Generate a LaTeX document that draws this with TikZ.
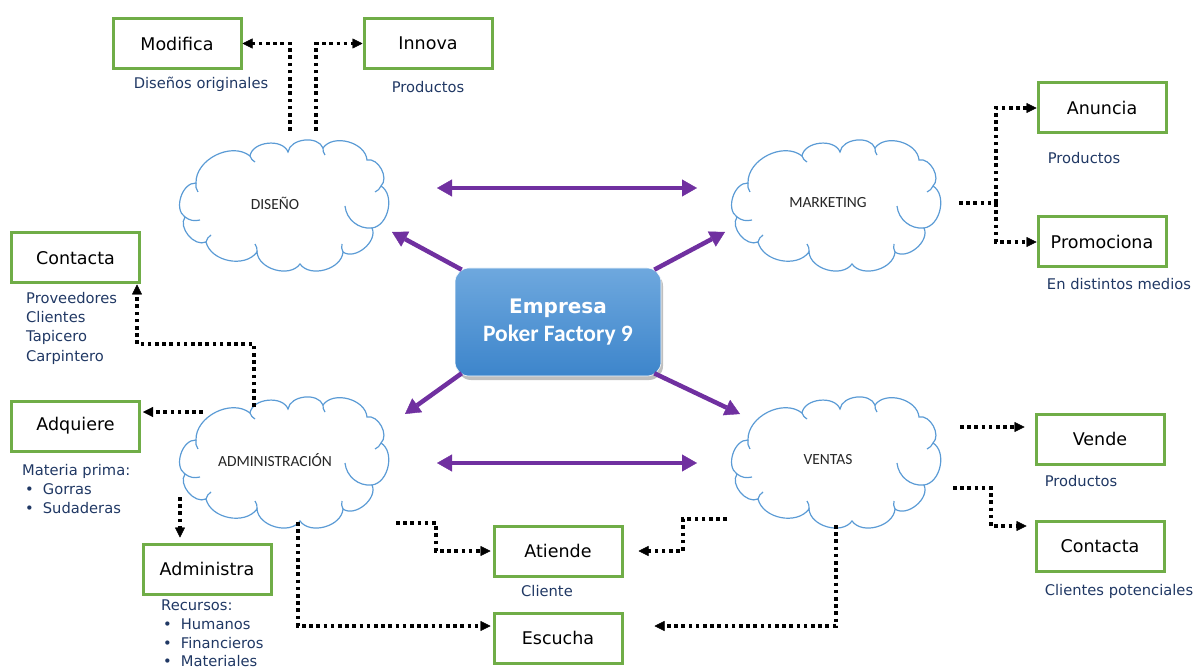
\documentclass[tikz,border=0pt]{standalone}
\usepackage{fontspec}
\setmainfont{DejaVu Sans}
\newfontfamily\calib{Carlito}
\usetikzlibrary{arrows.meta,calc}
\definecolor{boxgreen}{HTML}{70AD47}
\definecolor{cloudblue}{HTML}{5B9BD5}
\definecolor{capblue}{HTML}{203864}
\definecolor{purp}{HTML}{7030A0}
\definecolor{rtop}{HTML}{6EA8DE}
\definecolor{rbot}{HTML}{3D85CB}
\begin{document}
\begin{tikzpicture}[x=1pt,y=-1pt,
  gbox/.style={draw=boxgreen, line width=3pt, minimum width=128pt, minimum height=50pt, inner sep=0pt, font=\fontsize{17.5}{19}\selectfont},
  captxt/.style={text=capblue, font=\fontsize{14.7}{19.3}\selectfont, inner sep=0pt, align=left},
  cloudtxt/.style={inner sep=0pt, font=\calib\fontsize{15.5}{17}\selectfont, text=black!85},
  cloudline/.style={draw=cloudblue, line width=1.2pt},
  dots/.style={line width=3.6pt, dash pattern=on 3.6pt off 3.6pt},
  dotarrow/.style={dots, -{Triangle[length=10pt,width=10pt,line width=0.4pt]}},
  parrow/.style={draw=purp, line width=4.5pt, -{Triangle[length=15pt,width=17pt,line width=0.4pt]}},
  pdarrow/.style={draw=purp, line width=4.5pt, {Triangle[length=15pt,width=17pt,line width=0.4pt]}-{Triangle[length=15pt,width=17pt,line width=0.4pt]}},
  pics/pcloud/.style={code={
    \draw[cloudline] (-99,13) to[bend left=75] (-88,-21) to[bend left=65] (-34,-48)
      to[bend left=75] (4,-52) to[bend left=75] (39,-56) to[bend left=70] (83,-44)
      to[bend left=75] (97,-18) to[bend left=70] (88,24) to[bend left=75] (59,48)
      to[bend left=70] (16,60) to[bend left=70] (-27,48) to[bend left=65] (-78,38)
      to[bend left=75] cycle;
    \draw[cloudline] (-99,13) to[bend right=25] (-84,16);
    \draw[cloudline] (-88,-21) to[bend right=20] (-86,-12);
    \draw[cloudline] (-34,-48) to[bend right=20] (-29,-42);
    \draw[cloudline] (39,-56) to[bend right=20] (41,-49);
    \draw[cloudline] (97,-18) to[bend left=20] (91,-12);
    \draw[cloudline] (61,2) to[bend right=45] (88,24);
    \draw[cloudline] (59,48) to[bend left=20] (58,40);
    \draw[cloudline] (-27,48) to[bend right=20] (-29,40);
    \draw[cloudline] (-78,38) to[bend left=20] (-73,31);
  }}
]
\useasboundingbox (0,0) rectangle (1195,671);

% clouds
\pic at (284,204) {pcloud};
\pic at (836,204) {pcloud};
\pic at (284,461) {pcloud};
\pic at (836,461) {pcloud};
\node[cloudtxt] (dis) at (275,203) {DISEÑO};
\node[cloudtxt] (mkt) at (828,203) {MARKETING};
\node[cloudtxt] (adm) at (275,460) {ADMINISTRACIÓN};
\node[cloudtxt] (ven) at (828,460) {VENTAS};

% central node
\fill[black!25, rounded corners=14pt] (457,272) rectangle (663,380);
\node[draw=white, line width=0.6pt, rounded corners=14pt, top color=rtop, bottom color=rbot, minimum width=206pt, minimum height=108pt, text=white, align=center, inner sep=0pt] (emp) at (558,322)
  {{\bfseries\fontsize{20}{24}\selectfont Empresa}\\[7pt]{\calib\bfseries\fontsize{23.5}{24}\selectfont Poker Factory 9}};

% boxes
\node[gbox] (mod) at (177,43.5) {Modifica};
\node[gbox] (inn) at (428,43.5) {Innova};
\node[gbox] (anu) at (1102,108) {Anuncia};
\node[gbox] (pro) at (1102,242) {Promociona};
\node[gbox] (conl) at (75.5,258) {Contacta};
\node[gbox] (adq) at (75.5,426) {Adquiere};
\node[gbox] (admn) at (207,569) {Administra};
\node[gbox] (ati) at (558,551) {Atiende};
\node[gbox] (esc) at (558,638) {Escucha};
\node[gbox] (ven1) at (1100,439) {Vende};
\node[gbox] (conr) at (1100,546) {Contacta};

% captions
\node[captxt] (c1) at (201,84) {Diseños originales};
\node[captxt] (c2) at (428,87) {Productos};
\node[captxt] (c3) at (1084,158) {Productos};
\node[captxt] (c4) at (1119,284) {En distintos medios};
\node[captxt, anchor=north west] (c5) at (26,292) {Proveedores\\Clientes\\Tapicero\\Carpintero};
\node[captxt, anchor=north west] (c6) at (22,464) {Materia prima:\\\hspace*{3pt}\textbullet\hspace{9pt}Gorras\\\hspace*{3pt}\textbullet\hspace{9pt}Sudaderas};
\node[captxt, anchor=north west, font=\fontsize{14.7}{18.6}\selectfont] (c7) at (161,600) {Recursos:\\\hspace*{2pt}\textbullet\hspace{9pt}Humanos\\\hspace*{2pt}\textbullet\hspace{9pt}Financieros\\\hspace*{2pt}\textbullet\hspace{9pt}Materiales};
\node[captxt] (c8) at (547,591) {Cliente};
\node[captxt] (c9) at (1081,481) {Productos};
\node[captxt] (c10) at (1119,591) {Clientes potenciales};

% purple arrows
\coordinate (p1) at (437,188); \coordinate (p2) at (697,188);
\draw[pdarrow] (p1) -- (p2);
\coordinate (p3) at (437,463); \coordinate (p4) at (697,463);
\draw[pdarrow] (p3) -- (p4);
\coordinate (q1) at (392,232); \coordinate (q2) at (725,232);
\coordinate (q3) at (405,414); \coordinate (q4) at (740,414);
\draw[parrow] ($(emp.north west)+(7,2)$) -- (q1);
\draw[parrow] ($(emp.north east)+(-7,2)$) -- (q2);
\draw[parrow] ($(emp.south west)+(7,-3)$) -- (q3);
\draw[parrow] ($(emp.south east)+(-7,-3)$) -- (q4);

% dotted connectors
\coordinate (d1) at (290,131); \coordinate (d2) at (316,131);
\draw[dotarrow] (d1) |- (mod.east);
\draw[dotarrow] (d2) |- (inn.west);

\coordinate (m1) at (959,203); \coordinate (m2) at (996,203);
\draw[dots] (m1) -- (m2);
\draw[dotarrow] (m2) |- (anu.west);
\draw[dotarrow] (m2) |- (pro.west);

\coordinate (a1) at (254,407); \coordinate (a1b) at (137,344);
\draw[dotarrow] (a1) |- (a1b) -- (a1b |- conl.south);
\coordinate (a2) at (203,412);
\draw[dotarrow] (a2) -- ($(adq.east |- a2)+(2,0)$);
\coordinate (a3) at (180,497);
\draw[dotarrow] (a3) -- ($(a3 |- admn.north)+(0,-5)$);
\coordinate (a4) at (396,523); \coordinate (a4b) at (436,523);
\draw[dotarrow] (a4) -- (a4b) |- ($(ati.west)+(-2,0)$);
\coordinate (a5) at (298,522);
\draw[dotarrow] (a5) |- ($(esc.west)+(-2,-12)$);

\coordinate (v1) at (727,519); \coordinate (v1b) at (683,519);
\draw[dotarrow] (v1) -- (v1b) |- ($(ati.east)+(15,0)$);
\coordinate (v2) at (836,525);
\draw[dotarrow] (v2) |- ($(esc.east)+(31,-12)$);
\coordinate (v3) at (960,427);
\draw[dotarrow] (v3) -- ($(ven1.west |- v3)+(-10,0)$);
\coordinate (v4) at (953,488); \coordinate (v4b) at (991,488);
\draw[dotarrow] (v4) -- (v4b) |- ($(conr.west)+(-8,-20)$);
\end{tikzpicture}
\end{document}
